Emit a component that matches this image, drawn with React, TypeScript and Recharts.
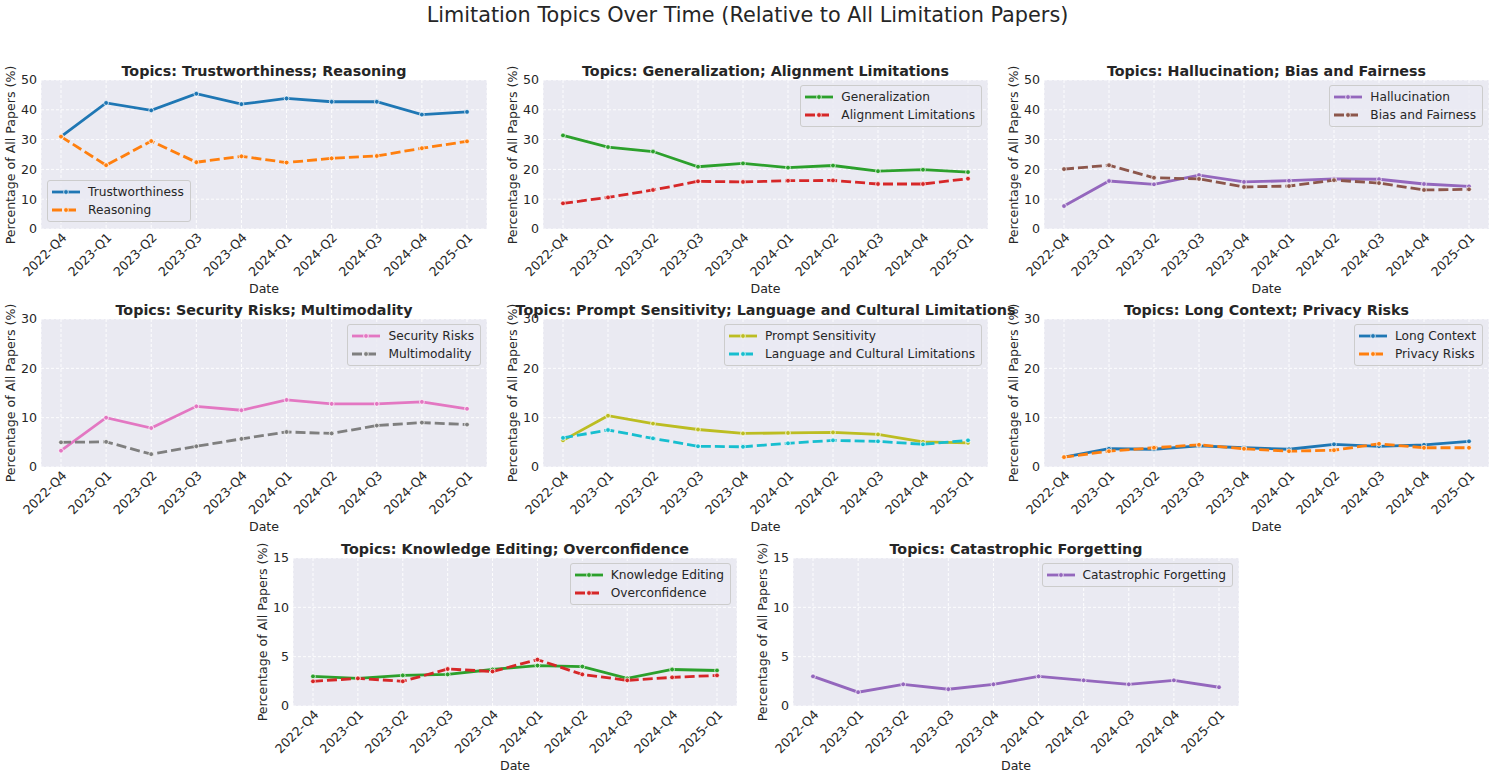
import React from 'react';
import { LineChart, Line, XAxis, YAxis, CartesianGrid } from 'recharts';

const QUARTERS = ['2022-Q4', '2023-Q1', '2023-Q2', '2023-Q3', '2023-Q4', '2024-Q1', '2024-Q2', '2024-Q3', '2024-Q4', '2025-Q1'];

const trustworthiness = [31.0, 42.3, 39.8, 45.4, 41.9, 43.8, 42.7, 42.7, 38.4, 39.3];
const reasoning = [31.0, 21.4, 29.5, 22.4, 24.4, 22.3, 23.7, 24.5, 27.1, 29.4];
const generalization = [31.4, 27.5, 26.0, 20.9, 22.0, 20.6, 21.3, 19.4, 19.9, 19.1];
const alignmentLimitations = [8.6, 10.6, 13.1, 16.0, 15.8, 16.2, 16.3, 15.1, 15.1, 16.9];
const hallucination = [7.7, 16.1, 15.0, 18.1, 15.8, 16.2, 16.8, 16.7, 15.1, 14.3];
const biasFairness = [20.1, 21.4, 17.2, 16.8, 14.1, 14.4, 16.4, 15.4, 13.1, 13.3];
const securityRisks = [3.3, 10.0, 7.9, 12.3, 11.5, 13.6, 12.8, 12.8, 13.2, 11.8];
const multimodality = [5.0, 5.1, 2.6, 4.2, 5.7, 7.1, 6.8, 8.4, 9.0, 8.6];
const promptSensitivity = [5.4, 10.4, 8.8, 7.6, 6.8, 6.9, 7.0, 6.6, 5.1, 4.9];
const languageCultural = [5.9, 7.5, 5.8, 4.2, 4.1, 4.8, 5.4, 5.2, 4.6, 5.4];
const longContext = [2.0, 3.7, 3.6, 4.3, 3.9, 3.6, 4.6, 4.2, 4.5, 5.2];
const privacyRisks = [2.0, 3.2, 3.9, 4.5, 3.7, 3.2, 3.4, 4.7, 3.9, 3.9];
const knowledgeEditing = [3.0, 2.8, 3.1, 3.2, 3.7, 4.1, 4.0, 2.8, 3.7, 3.6];
const overconfidence = [2.5, 2.8, 2.5, 3.75, 3.5, 4.7, 3.2, 2.6, 2.9, 3.1];
const catastrophicForgetting = [3.0, 1.4, 2.2, 1.7, 2.2, 3.0, 2.6, 2.2, 2.6, 1.9];

const TICKS_50 = [0, 10, 20, 30, 40, 50];
const TICKS_30 = [0, 10, 20, 30];
const TICKS_15 = [0, 5, 10, 15];

const MAIN_TITLE = 'Limitation Topics Over Time (Relative to All Limitation Papers)';
const Y_LABEL = 'Percentage of All Papers (%)';
const X_LABEL = 'Date';

const FONT = '"DejaVu Sans", sans-serif';
const TEXT = '#262626';
const BG = '#EAEAF2';
const DASH = '10 4';
const LW = 2.8;

type Series = { name: string; values: number[]; color: string; dashed: boolean };
type Panel = {
  title: string;
  series: Series[];
  ticks: number[];
  left: number;
  top: number;
  width: number;
  height: number;
  legend: 'ur' | 'll';
};

const panels: Panel[] = [
  {
    title: 'Topics: Trustworthiness; Reasoning',
    series: [
      { name: 'Trustworthiness', values: trustworthiness, color: '#1f77b4', dashed: false },
      { name: 'Reasoning', values: reasoning, color: '#ff7f0e', dashed: true },
    ],
    ticks: TICKS_50, left: 41, top: 80, width: 446, height: 149, legend: 'll',
  },
  {
    title: 'Topics: Generalization; Alignment Limitations',
    series: [
      { name: 'Generalization', values: generalization, color: '#2ca02c', dashed: false },
      { name: 'Alignment Limitations', values: alignmentLimitations, color: '#d62728', dashed: true },
    ],
    ticks: TICKS_50, left: 543, top: 80, width: 445, height: 149, legend: 'ur',
  },
  {
    title: 'Topics: Hallucination; Bias and Fairness',
    series: [
      { name: 'Hallucination', values: hallucination, color: '#9467bd', dashed: false },
      { name: 'Bias and Fairness', values: biasFairness, color: '#8c564b', dashed: true },
    ],
    ticks: TICKS_50, left: 1044, top: 80, width: 445, height: 149, legend: 'ur',
  },
  {
    title: 'Topics: Security Risks; Multimodality',
    series: [
      { name: 'Security Risks', values: securityRisks, color: '#e377c2', dashed: false },
      { name: 'Multimodality', values: multimodality, color: '#7f7f7f', dashed: true },
    ],
    ticks: TICKS_30, left: 41, top: 319, width: 446, height: 148, legend: 'ur',
  },
  {
    title: 'Topics: Prompt Sensitivity; Language and Cultural Limitations',
    series: [
      { name: 'Prompt Sensitivity', values: promptSensitivity, color: '#bcbd22', dashed: false },
      { name: 'Language and Cultural Limitations', values: languageCultural, color: '#17becf', dashed: true },
    ],
    ticks: TICKS_30, left: 543, top: 319, width: 445, height: 148, legend: 'ur',
  },
  {
    title: 'Topics: Long Context; Privacy Risks',
    series: [
      { name: 'Long Context', values: longContext, color: '#1f77b4', dashed: false },
      { name: 'Privacy Risks', values: privacyRisks, color: '#ff7f0e', dashed: true },
    ],
    ticks: TICKS_30, left: 1044, top: 319, width: 445, height: 148, legend: 'ur',
  },
  {
    title: 'Topics: Knowledge Editing; Overconfidence',
    series: [
      { name: 'Knowledge Editing', values: knowledgeEditing, color: '#2ca02c', dashed: false },
      { name: 'Overconfidence', values: overconfidence, color: '#d62728', dashed: true },
    ],
    ticks: TICKS_15, left: 293, top: 558, width: 444, height: 148, legend: 'ur',
  },
  {
    title: 'Topics: Catastrophic Forgetting',
    series: [
      { name: 'Catastrophic Forgetting', values: catastrophicForgetting, color: '#9467bd', dashed: false },
    ],
    ticks: TICKS_15, left: 793, top: 558, width: 446, height: 148, legend: 'ur',
  },
];

const YAXIS_W = 40;
const M_TOP = 10;
const M_RIGHT = 5;
const XAXIS_H = 60;

function XTick(props: any) {
  const { x, y, payload } = props;
  return (
    <g transform={`translate(${x},${y})`}>
      <text
        x={0}
        y={0}
        dy="0.71em"
        textAnchor="end"
        transform="rotate(-45)"
        fontSize={12.6}
        fill={TEXT}
        fontFamily={FONT}
      >
        {payload.value}
      </text>
    </g>
  );
}

function makeDot(color: string) {
  return (p: any) => (
    <circle
      key={`d-${p.index}`}
      cx={p.cx}
      cy={p.cy}
      r={2.4}
      fill={color}
      stroke="#ffffff"
      strokeWidth={0.7}
    />
  );
}

function LegendBox({ panel }: { panel: Panel }) {
  const style: React.CSSProperties = {
    position: 'absolute',
    border: '1px solid #cccccc',
    borderRadius: 3,
    background: 'rgba(234,234,242,0.8)',
    padding: '2px 6px 2px 4px',
    fontFamily: FONT,
    fontSize: 12.2,
    color: TEXT,
    lineHeight: '18px',
    whiteSpace: 'nowrap',
  };
  if (panel.legend === 'll') {
    style.left = panel.left + 6;
    style.top = panel.top + panel.height - 7 - (panel.series.length * 18 + 6);
  } else {
    style.right = 1495 - (panel.left + panel.width - 6);
    style.top = panel.top + 5;
  }
  return (
    <div style={style}>
      {panel.series.map((s) => (
        <div key={s.name} style={{ display: 'flex', alignItems: 'center', height: 18 }}>
          <svg width={28} height={10} style={{ marginRight: 8 }}>
            <line
              x1={0}
              y1={5}
              x2={28}
              y2={5}
              stroke={s.color}
              strokeWidth={LW}
              strokeDasharray={s.dashed ? DASH : undefined}
            />
            <circle cx={14} cy={5} r={2.4} fill={s.color} stroke="#ffffff" strokeWidth={0.7} />
          </svg>
          <span>{s.name}</span>
        </div>
      ))}
    </div>
  );
}

function PanelChart({ panel }: { panel: Panel }) {
  const data = QUARTERS.map((q, i) => {
    const row: Record<string, any> = { date: q };
    panel.series.forEach((s, k) => {
      row[`s${k}`] = s.values[i];
    });
    return row;
  });
  const chartW = YAXIS_W + panel.width + M_RIGHT;
  const chartH = M_TOP + panel.height + XAXIS_H;
  const yMax = panel.ticks[panel.ticks.length - 1];
  return (
    <>
      <div
        style={{
          position: 'absolute',
          left: panel.left - YAXIS_W,
          top: panel.top - M_TOP,
          width: chartW,
          height: chartH,
        }}
      >
        <LineChart
          width={chartW}
          height={chartH}
          data={data}
          margin={{ top: M_TOP, right: M_RIGHT, bottom: 0, left: 0 }}
        >
          <CartesianGrid fill={BG} stroke="#ffffff" strokeDasharray="3 2" strokeWidth={0.9} />
          <XAxis
            dataKey="date"
            height={XAXIS_H}
            padding={{ left: 20, right: 20 }}
            tick={<XTick />}
            tickLine={false}
            axisLine={false}
            tickSize={0}
            tickMargin={3}
            interval={0}
          />
          <YAxis
            width={YAXIS_W}
            domain={[0, yMax]}
            ticks={panel.ticks}
            tickLine={false}
            axisLine={false}
            tickSize={0}
            tickMargin={4}
            tick={{ fontSize: 12.6, fill: TEXT, fontFamily: FONT }}
            allowDataOverflow
          />
          {panel.series.map((s, k) => (
            <Line
              key={s.name}
              type="linear"
              dataKey={`s${k}`}
              stroke={s.color}
              strokeWidth={LW}
              strokeDasharray={s.dashed ? DASH : undefined}
              dot={makeDot(s.color)}
              activeDot={false}
              isAnimationActive={false}
            />
          ))}
        </LineChart>
      </div>
      <div
        style={{
          position: 'absolute',
          left: panel.left - 60,
          width: panel.width + 120,
          top: panel.top - 17,
          textAlign: 'center',
          fontFamily: FONT,
          fontWeight: 'bold',
          fontSize: 14.3,
          color: TEXT,
          lineHeight: '17px',
          whiteSpace: 'nowrap',
        }}
      >
        {panel.title}
      </div>
      <div
        style={{
          position: 'absolute',
          left: panel.left - 30 - 150,
          top: panel.top + panel.height / 2 - 9,
          width: 300,
          height: 18,
          lineHeight: '18px',
          textAlign: 'center',
          transform: 'rotate(-90deg)',
          fontFamily: FONT,
          fontSize: 12.6,
          color: TEXT,
          whiteSpace: 'nowrap',
        }}
      >
        {Y_LABEL}
      </div>
      <div
        style={{
          position: 'absolute',
          left: panel.left,
          width: panel.width,
          top: panel.top + panel.height + 51,
          lineHeight: '18px',
          textAlign: 'center',
          fontFamily: FONT,
          fontSize: 12.6,
          color: TEXT,
        }}
      >
        {X_LABEL}
      </div>
      <LegendBox panel={panel} />
    </>
  );
}

export default function App() {
  return (
    <div
      style={{
        position: 'absolute',
        left: 0,
        top: 0,
        width: 1495,
        height: 778,
        background: '#ffffff',
        overflow: 'hidden',
      }}
    >
      <div
        style={{
          position: 'absolute',
          left: 0,
          width: 1495,
          top: 2,
          textAlign: 'center',
          fontFamily: FONT,
          fontSize: 20.8,
          color: TEXT,
          lineHeight: '26px',
        }}
      >
        {MAIN_TITLE}
      </div>
      {panels.map((p) => (
        <PanelChart key={p.title} panel={p} />
      ))}
    </div>
  );
}
